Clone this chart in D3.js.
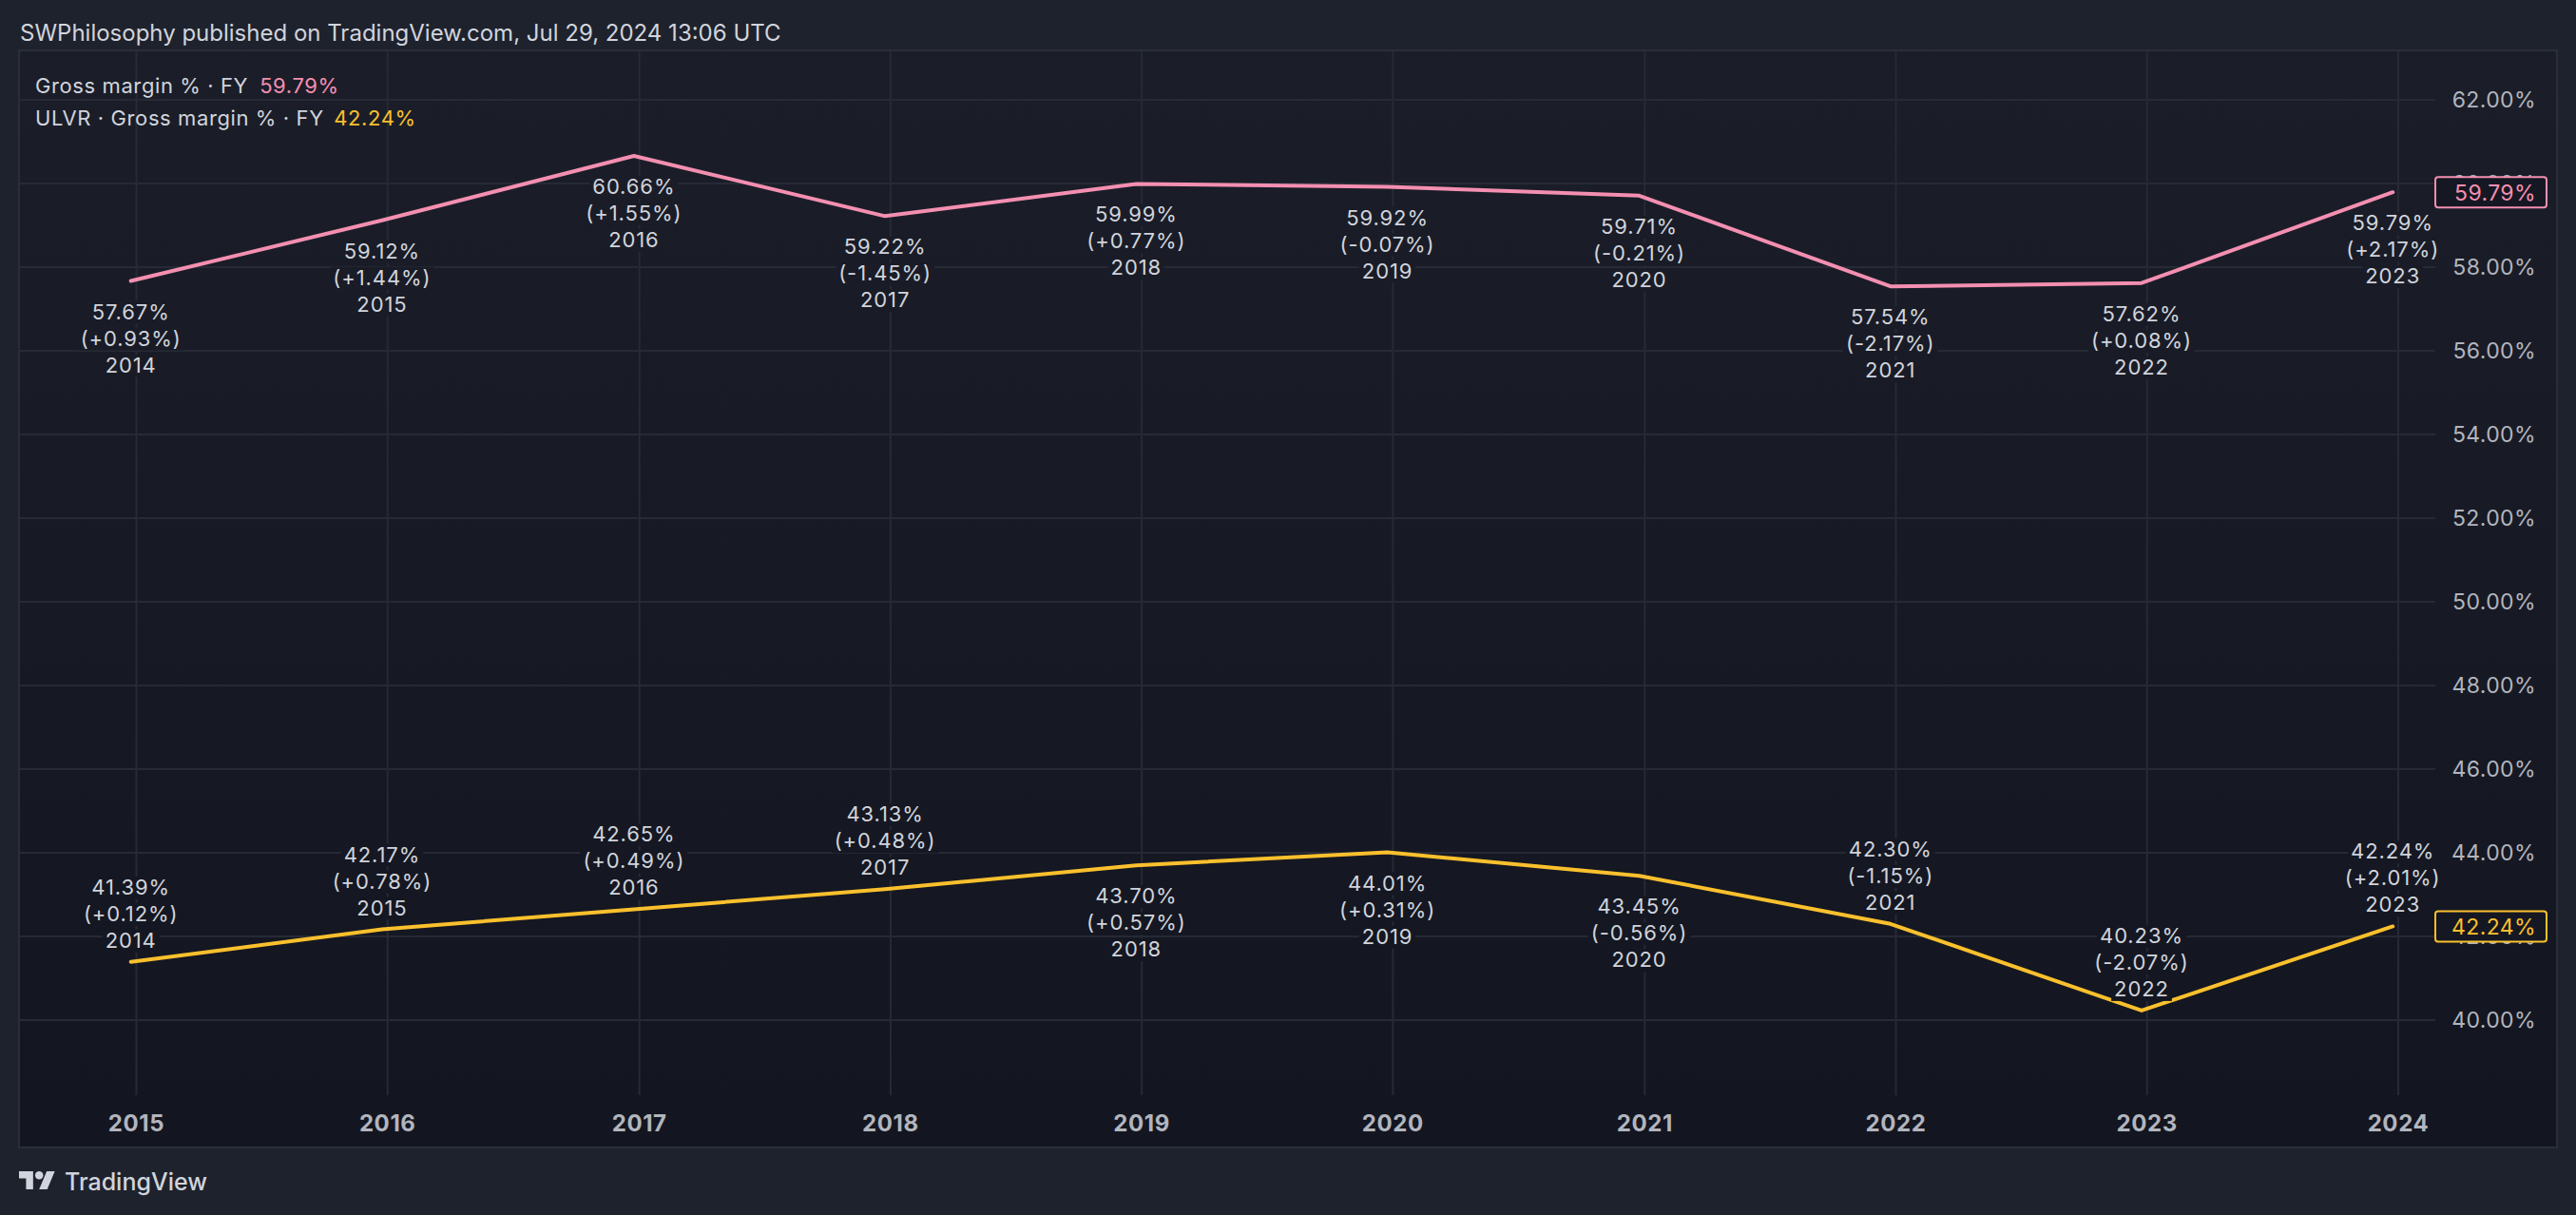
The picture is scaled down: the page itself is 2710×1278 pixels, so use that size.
<!DOCTYPE html>
<html>
<head>
<meta charset="utf-8">
<script src="https://cdn.jsdelivr.net/npm/d3@7"></script>
<style>
    body { margin: 0; background: #1e222d; }
    svg { display: block; }
    text { font-family: Inter, "Noto Sans", sans-serif; }
</style>
</head>
<body>
<svg id="chart"></svg>
<script>

// data
const FISCAL_YEARS = [2014, 2015, 2016, 2017, 2018, 2019, 2020, 2021, 2022, 2023];
const AXIS_YEARS = [2015, 2016, 2017, 2018, 2019, 2020, 2021, 2022, 2023, 2024];
const Y_TICKS = [40, 42, 44, 46, 48, 50, 52, 54, 56, 58, 60, 62];

const SW_MARGIN = [57.67, 59.12, 60.66, 59.22, 59.99, 59.92, 59.71, 57.54, 57.62, 59.79];
const SW_CHANGE = [0.93, 1.44, 1.55, -1.45, 0.77, -0.07, -0.21, -2.17, 0.08, 2.17];

const ULVR_MARGIN = [41.39, 42.17, 42.65, 43.13, 43.70, 44.01, 43.45, 42.30, 40.23, 42.24];
const ULVR_CHANGE = [0.12, 0.78, 0.49, 0.48, 0.57, 0.31, -0.56, -1.15, -2.07, 2.01];

const TITLE = 'SWPhilosophy published on TradingView.com, Jul 29, 2024 13:06 UTC';

// label placement (style, not data)
const SW_LABEL_SIDE = ['below', 'below', 'below', 'below', 'below', 'below', 'below', 'below', 'below', 'below'];
const ULVR_LABEL_SIDE = ['above', 'above', 'above', 'above', 'below', 'below', 'below', 'above', 'above', 'above'];

const WIDTH = 2710, HEIGHT = 1278;
const FRAME = { left: 20, top: 53, right: 2690, bottom: 1207 };
const GRID = { right: 2562, bottom: 1152 };
const PINK = '#f48fb1', YELLOW = '#fbc02d';
const TEXT = '#d1d4dc', AXIS_TEXT = '#b2b5be', GRID_COLOR = '#262a35';

const svg = d3.select('#chart')
    .attr('width', WIDTH)
    .attr('height', HEIGHT);

const grad = svg.append('defs').append('linearGradient')
    .attr('id', 'plotBg')
    .attr('gradientUnits', 'userSpaceOnUse')
    .attr('x1', 0).attr('y1', FRAME.top)
    .attr('x2', 0).attr('y2', FRAME.bottom);
grad.append('stop').attr('offset', 0).attr('stop-color', '#1b1e29');
grad.append('stop').attr('offset', 1).attr('stop-color', '#131620');

svg.append('rect')
    .attr('width', WIDTH).attr('height', HEIGHT)
    .attr('fill', '#1e222d');

svg.append('rect')
    .attr('x', FRAME.left).attr('y', FRAME.top)
    .attr('width', FRAME.right - FRAME.left)
    .attr('height', FRAME.bottom - FRAME.top)
    .attr('fill', 'url(#plotBg)')
    .attr('stroke', '#2a2e39')
    .attr('stroke-width', 2);

// scales
const x = d3.scaleTime()
    .domain([new Date(2015, 0, 1), new Date(2024, 0, 1)])
    .range([143.5, 2523]);

const y = d3.scaleLinear()
    .domain([62, 40])
    .range([105, 1073]);

// fiscal year values sit just before the new year
const fyDate = fy => new Date(fy, 11, 24);

// grid
const grid = svg.append('g').attr('class', 'grid');

grid.selectAll('line.h')
    .data(Y_TICKS)
    .enter().append('line')
        .attr('class', 'h')
        .attr('x1', FRAME.left + 1)
        .attr('x2', GRID.right)
        .attr('y1', d => y(d))
        .attr('y2', d => y(d))
        .attr('stroke', GRID_COLOR)
        .attr('stroke-width', 2);

grid.selectAll('line.v')
    .data(AXIS_YEARS)
    .enter().append('line')
        .attr('class', 'v')
        .attr('x1', d => x(new Date(d, 0, 1)))
        .attr('x2', d => x(new Date(d, 0, 1)))
        .attr('y1', FRAME.top + 1)
        .attr('y2', GRID.bottom)
        .attr('stroke', GRID_COLOR)
        .attr('stroke-width', 2);

// y axis labels
svg.append('g')
    .selectAll('text')
    .data(Y_TICKS)
    .enter().append('text')
        .attr('x', 2668)
        .attr('y', d => y(d))
        .attr('dy', '0.36em')
        .attr('text-anchor', 'end')
        .attr('font-size', 23)
        .attr('letter-spacing', 0.4)
        .attr('fill', AXIS_TEXT)
        .text(d => d.toFixed(2) + '%');

// x axis labels
svg.append('g')
    .selectAll('text')
    .data(AXIS_YEARS)
    .enter().append('text')
        .attr('x', d => x(new Date(d, 0, 1)))
        .attr('y', 1190)
        .attr('text-anchor', 'middle')
        .attr('font-size', 24)
        .attr('font-weight', 700)
        .attr('letter-spacing', 0.6)
        .attr('fill', AXIS_TEXT)
        .text(d => d);

const fmtChange = v => '(' + (v >= 0 ? '+' : '') + v.toFixed(2) + '%)';

function drawSeries(values, changes, sides, color) {
    const pts = FISCAL_YEARS.map((fy, i) => ({
        fy: fy,
        value: values[i],
        change: changes[i],
        side: sides[i]
    }));

    const line = d3.line()
        .x(d => x(fyDate(d.fy)))
        .y(d => y(d.value));

    svg.append('path')
        .datum(pts)
        .attr('d', line)
        .attr('fill', 'none')
        .attr('stroke', color)
        .attr('stroke-width', 4)
        .attr('stroke-linejoin', 'round')
        .attr('stroke-linecap', 'round');

    return pts;
}

const swPts = drawSeries(SW_MARGIN, SW_CHANGE, SW_LABEL_SIDE, PINK);
const ulvrPts = drawSeries(ULVR_MARGIN, ULVR_CHANGE, ULVR_LABEL_SIDE, YELLOW);

// point labels on top of the lines, each line of text masks the grid behind it
const labelLayer = svg.append('g');
[swPts, ulvrPts].forEach(pts => {
    pts.forEach(d => {
        var px = x(fyDate(d.fy));
        var py = y(d.value);
        var first = d.side === 'below' ? py + 40 : py - 71;
        var lines = [d.value.toFixed(2) + '%', fmtChange(d.change), String(d.fy)];
        var g = labelLayer.append('g');
        var texts = lines.map((t, i) => g.append('text')
            .attr('x', px)
            .attr('y', first + i * 28)
            .attr('text-anchor', 'middle')
            .attr('font-size', 22)
            .attr('letter-spacing', 0.9)
            .attr('fill', TEXT)
            .text(t));
        texts.forEach(t => {
            var b = t.node().getBBox();
            g.insert('rect', 'text')
                .attr('x', b.x - 3)
                .attr('y', b.y + 2)
                .attr('width', b.width + 6)
                .attr('height', b.height - 2)
                .attr('fill', 'url(#plotBg)');
        });
    });
});

// last value boxes on the price scale
function priceBox(value, color) {
    const g = svg.append('g');
    g.append('rect')
        .attr('x', 2562)
        .attr('y', y(value) - 16)
        .attr('width', 117)
        .attr('height', 32)
        .attr('rx', 3)
        .attr('fill', '#151822')
        .attr('stroke', color)
        .attr('stroke-width', 2);
    g.append('text')
        .attr('x', 2668)
        .attr('y', y(value))
        .attr('dy', '0.36em')
        .attr('text-anchor', 'end')
        .attr('font-size', 23)
        .attr('letter-spacing', 0.4)
        .attr('fill', color)
        .text(value.toFixed(2) + '%');
}
priceBox(SW_MARGIN[SW_MARGIN.length - 1], PINK);
priceBox(ULVR_MARGIN[ULVR_MARGIN.length - 1], YELLOW);

// title
svg.append('text')
    .attr('x', 21)
    .attr('y', 43)
    .attr('font-size', 24)
    .attr('fill', TEXT)
    .text(TITLE);

// legend
const legend = [
    { name: 'Gross margin % \u00b7 FY', value: SW_MARGIN[SW_MARGIN.length - 1], color: PINK },
    { name: 'ULVR \u00b7 Gross margin % \u00b7 FY', value: ULVR_MARGIN[ULVR_MARGIN.length - 1], color: YELLOW }
];
legend.forEach((l, i) => {
    const t = svg.append('text')
        .attr('x', 37)
        .attr('y', 98 + i * 34)
        .attr('font-size', 22)
        .attr('letter-spacing', 0.6)
        .attr('fill', TEXT);
    t.append('tspan').text(l.name);
    t.append('tspan').attr('dx', 12).attr('fill', l.color).text(l.value.toFixed(2) + '%');
});

// footer logo
const logo = svg.append('g')
    .attr('transform', 'translate(20,' + (1232 - 4 * 1.06) + ') scale(1.06)')
    .attr('fill', TEXT);
logo.append('path').attr('d', 'M14 22H7V11H0V4h14v18zM28 22h-8l7.5-18h8L28 22z');
logo.append('circle').attr('cx', 20).attr('cy', 8).attr('r', 4);

svg.append('text')
    .attr('x', 68)
    .attr('y', 1252)
    .attr('font-size', 25)
    .attr('font-weight', 500)
    .attr('fill', TEXT)
    .text('TradingView');

</script>
</body>
</html>
